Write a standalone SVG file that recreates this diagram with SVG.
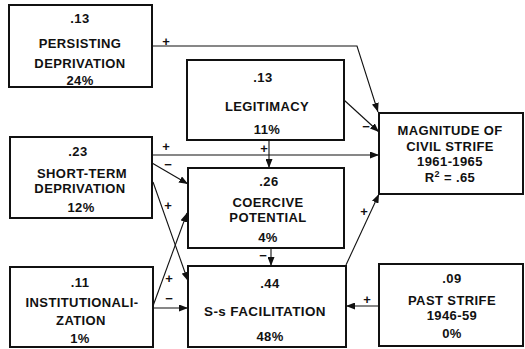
<svg xmlns="http://www.w3.org/2000/svg" width="525" height="349" viewBox="0 0 525 349">
<style>
.box{fill:#fff;stroke:#111;stroke-width:2}
.t{font-family:"Liberation Sans",Arial,sans-serif;font-size:13px;font-weight:bold;letter-spacing:0.4px;fill:#111;text-anchor:middle}
.c{fill:none;stroke:#111;stroke-width:1.1}
.s{font-family:"Liberation Sans",Arial,sans-serif;font-size:13px;font-weight:bold;fill:#111;text-anchor:middle}
</style>
<defs>
<marker id="ah" markerUnits="userSpaceOnUse" markerWidth="9" markerHeight="7" refX="9" refY="3.5" orient="auto">
<path d="M0,0 L9,3.5 L0,7 z" fill="#111"/>
</marker>
</defs>
<rect width="525" height="349" fill="#fff"/>
<g id="connectors">
<polyline class="c" points="152,46 357,46 378,112" marker-end="url(#ah)"/>
<line class="c" x1="344" y1="100" x2="379" y2="132" marker-end="url(#ah)"/>
<line class="c" x1="152" y1="155" x2="379" y2="155" marker-end="url(#ah)"/>
<line class="c" x1="269" y1="140" x2="269" y2="168" marker-end="url(#ah)"/>
<line class="c" x1="152" y1="163" x2="188" y2="184" marker-end="url(#ah)"/>
<line class="c" x1="153" y1="182" x2="188" y2="281" marker-end="url(#ah)"/>
<line class="c" x1="153" y1="306" x2="187" y2="213" marker-end="url(#ah)"/>
<line class="c" x1="153" y1="308" x2="188" y2="308" marker-end="url(#ah)"/>
<line class="c" x1="271" y1="248" x2="271" y2="266" marker-end="url(#ah)"/>
<line class="c" x1="346" y1="265" x2="379" y2="194" marker-end="url(#ah)"/>
<line class="c" x1="379" y1="306" x2="346" y2="306" marker-end="url(#ah)"/>
<text class="s" x="166" y="46">+</text>
<text class="s" x="366" y="131">−</text>
<text class="s" x="166" y="151">+</text>
<text class="s" x="264" y="153">+</text>
<text class="s" x="168" y="169">−</text>
<text class="s" x="168" y="210">+</text>
<text class="s" x="169" y="283">+</text>
<text class="s" x="169" y="303">−</text>
<text class="s" x="263" y="260">−</text>
<text class="s" x="364" y="216">+</text>
<text class="s" x="367" y="304">+</text>
</g>
<g id="persisting">
<rect class="box" x="9" y="5" width="143" height="82"/>
<text class="t" x="80" y="23">.13</text>
<text class="t" x="80" y="48">PERSISTING</text>
<text class="t" x="80" y="68">DEPRIVATION</text>
<text class="t" x="80" y="85">24%</text>
</g>
<g id="legitimacy">
<rect class="box" x="187" y="60" width="157" height="80"/>
<text class="t" x="263" y="82">.13</text>
<text class="t" x="267" y="111">LEGITIMACY</text>
<text class="t" x="267" y="134">11%</text>
</g>
<g id="magnitude">
<rect class="box" x="379" y="113" width="144" height="81"/>
<text class="t" x="450" y="135">MAGNITUDE OF</text>
<text class="t" x="450" y="151">CIVIL STRIFE</text>
<text class="t" x="450" y="166">1961-1965</text>
<text class="t" x="450" y="182">R<tspan font-size="9" dy="-5">2</tspan><tspan dy="5"> = .65</tspan></text>
</g>
<g id="shortterm">
<rect class="box" x="10" y="137" width="142" height="81"/>
<text class="t" x="78" y="156">.23</text>
<text class="t" x="82" y="178">SHORT-TERM</text>
<text class="t" x="80" y="193">DEPRIVATION</text>
<text class="t" x="81" y="212">12%</text>
</g>
<g id="coercive">
<rect class="box" x="188" y="168" width="156" height="80"/>
<text class="t" x="269" y="186">.26</text>
<text class="t" x="268" y="207">COERCIVE</text>
<text class="t" x="268" y="222">POTENTIAL</text>
<text class="t" x="268" y="242">4%</text>
</g>
<g id="institutionalization">
<rect class="box" x="10" y="267" width="143" height="80"/>
<text class="t" x="80" y="287">.11</text>
<text class="t" x="82" y="307">INSTITUTIONALI-</text>
<text class="t" x="81" y="325">ZATION</text>
<text class="t" x="80" y="343">1%</text>
</g>
<g id="facilitation">
<rect class="box" x="188" y="266" width="158" height="81"/>
<text class="t" x="270" y="288">.44</text>
<text class="t" x="265" y="316" textLength="122" lengthAdjust="spacingAndGlyphs">S-s FACILITATION</text>
<text class="t" x="270" y="341">48%</text>
</g>
<g id="paststrife">
<rect class="box" x="379" y="264" width="144" height="82"/>
<text class="t" x="452" y="283">.09</text>
<text class="t" x="452" y="305">PAST STRIFE</text>
<text class="t" x="452" y="320">1946-59</text>
<text class="t" x="452" y="338">0%</text>
</g>
</svg>
